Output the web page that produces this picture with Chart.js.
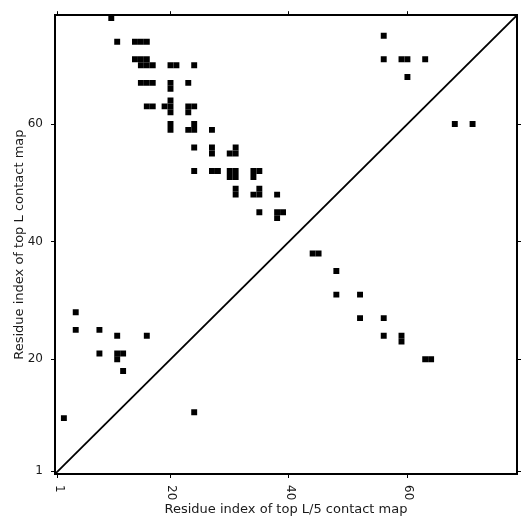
<!DOCTYPE html>
<html>
<head>
<meta charset="utf-8">
<script src="https://cdn.jsdelivr.net/npm/chart.js@4"></script>
<style>
  html, body { margin: 0; padding: 0; background: #fff; }
  #wrap { width: 531px; height: 531px; }
</style>
</head>
<body>
<div id="wrap"><canvas id="myChart" width="531" height="531"></canvas></div>
<script>
// contacts: residue i (x) and residue j (y)
const residueI = [10, 11, 14, 15, 16, 14, 15, 16, 15, 16, 17, 20, 21, 24,
    15, 16, 17, 20, 23, 20, 20, 16, 17, 19, 20, 23, 24, 20, 23, 20, 24,
    20, 23, 24, 27, 24, 27, 31, 27, 30, 31, 24, 27, 28, 30, 31, 34, 35,
    30, 31, 34, 31, 35, 31, 34, 35, 38, 35, 38, 39, 38, 44, 45, 48, 48, 52,
    52, 56, 56, 59, 59, 63, 64, 56, 56, 59, 60, 63, 60, 68, 71,
    4, 4, 8, 11, 16, 8, 11, 12, 11, 12, 2, 24];
const residueJ = [78, 74, 74, 74, 74, 71, 71, 71, 70, 70, 70, 70, 70, 70,
    67, 67, 67, 67, 67, 66, 64, 63, 63, 63, 63, 63, 63, 62, 62, 60, 60,
    59, 59, 59, 59, 56, 56, 56, 55, 55, 55, 52, 52, 52, 52, 52, 52, 52,
    51, 51, 51, 49, 49, 48, 48, 48, 48, 45, 45, 45, 44, 38, 38, 35, 31, 31,
    27, 27, 24, 24, 23, 20, 20, 75, 71, 71, 71, 71, 68, 60, 60,
    28, 25, 25, 24, 24, 21, 21, 21, 20, 18, 10, 11];

const axisMin = 0.5;
const axisMax = 78.5;
const tickValues = [1, 20, 40, 60];
const xTitle = 'Residue index of top L/5 contact map';
const yTitle = 'Residue index of top L contact map';

const points = residueI.map((x, i) => ({ x: x, y: residueJ[i] }));
const diagonal = [{ x: axisMin, y: axisMin }, { x: axisMax, y: axisMax }];

const FONT = 'DejaVu Sans';

// square size = one residue cell
function cellRadius(c) {
    const s = c.chart.scales.x;
    const w = Math.abs(s.getPixelForValue(1) - s.getPixelForValue(0));
    return w / 2 / Math.SQRT1_2;
}

function setTicks(scale) {
    scale.ticks = tickValues.map(v => ({ value: v, label: String(v) }));
}

function fixSize(prop, size) {
    return scale => { scale[prop] = size; };
}

const baseAxis = {
    type: 'linear',
    min: axisMin,
    max: axisMax,
    afterBuildTicks: setTicks,
    border: { display: true, color: '#000', width: 2 },
    grid: { drawOnChartArea: false, drawTicks: true, tickLength: 4, color: '#000', lineWidth: 1 }
};

const labelsPlugin = {
    id: 'labels',
    afterDraw(chart) {
        const ctx = chart.ctx;
        const x = chart.scales.x;
        const area = chart.chartArea;
        ctx.save();
        ctx.fillStyle = '#1a1a1a';
        ctx.font = '12px "' + FONT + '"';
        // x tick labels, turned clockwise
        tickValues.forEach(v => {
            ctx.save();
            ctx.translate(x.getPixelForValue(v) + 1, area.bottom + 11);
            ctx.rotate(Math.PI / 2);
            ctx.textAlign = 'left';
            ctx.textBaseline = 'middle';
            ctx.fillText(String(v), 0, 0);
            ctx.restore();
        });
        ctx.font = '13px "' + FONT + '"';
        ctx.textAlign = 'center';
        ctx.textBaseline = 'middle';
        ctx.fillText(xTitle, (area.left + area.right) / 2, 510);
        ctx.save();
        ctx.translate(20, (area.top + area.bottom) / 2);
        ctx.rotate(-Math.PI / 2);
        ctx.fillText(yTitle, 0, 0);
        ctx.restore();
        ctx.restore();
    }
};

const ctx = document.getElementById('myChart').getContext('2d');

new Chart(ctx, {
    type: 'scatter',
    data: {
        datasets: [{
            label: 'contacts',
            data: points,
            pointStyle: 'rect',
            radius: cellRadius,
            hoverRadius: cellRadius,
            backgroundColor: '#000',
            borderWidth: 0
        }, {
            type: 'line',
            label: 'diagonal',
            data: diagonal,
            borderColor: '#000',
            borderWidth: 1.8,
            pointRadius: 0,
            fill: false
        }]
    },
    options: {
        responsive: false,
        animation: false,
        events: [],
        layout: { padding: 0 },
        plugins: {
            legend: { display: false },
            tooltip: { enabled: false }
        },
        scales: {
            x: Object.assign({}, baseAxis, {
                position: 'bottom',
                ticks: { display: false },
                afterFit: fixSize('height', 57)
            }),
            x2: Object.assign({}, baseAxis, {
                position: 'top',
                ticks: { display: false },
                afterFit: fixSize('height', 14)
            }),
            y: Object.assign({}, baseAxis, {
                position: 'left',
                ticks: {
                    display: true,
                    padding: 8,
                    color: '#1a1a1a',
                    font: { family: FONT, size: 12 }
                },
                afterFit: fixSize('width', 55)
            }),
            y2: Object.assign({}, baseAxis, {
                position: 'right',
                ticks: { display: false },
                afterFit: fixSize('width', 14)
            })
        }
    },
    plugins: [labelsPlugin]
});
</script>
</body>
</html>
